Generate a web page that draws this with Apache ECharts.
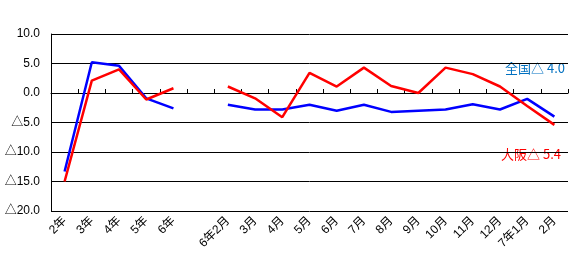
<!DOCTYPE html>
<html><head><meta charset="utf-8">
<script src="https://cdn.jsdelivr.net/npm/echarts@6/dist/echarts.min.js"></script>
<style>html,body{margin:0;padding:0;background:#fff}#c{width:578px;height:276px}</style>
</head><body><div id="c"></div>
<script>
var categories = ['2年','3年','4年','5年','6年','','6年2月','3月','4月','5月','6月','7月','8月','9月','10月','11月','12月','7年1月','2月'];
var osaka =  [-15.0, 2.1, 4.0, -1.1, 0.8, null, 1.1, -0.9, -4.1, 3.4, 1.1, 4.3, 1.2, 0.0, 4.3, 3.2, 1.1, -2.2, -5.4];
var zenkoku = [-13.3, 5.2, 4.6, -0.9, -2.6, null, -2.0, -2.8, -2.8, -2.0, -3.0, -2.0, -3.2, -3.0, -2.8, -1.9, -2.8, -1.0, -4.0];
var yTicks = {min: -20, max: 10, interval: 5};
var noteZenkoku = '全国△ 4.0';
var noteOsaka = '大阪△ 5.4';

var FONT = "'Liberation Sans','Noto Sans CJK JP',sans-serif";
var chart = echarts.init(document.getElementById('c'));
chart.setOption({
  animation: false,
  grid: {left: 51, right: 10, top: 34, bottom: 65},
  xAxis: [{
    type: 'category', data: categories, boundaryGap: true,
    axisLine: {show: false, onZero: false},
    axisTick: {show: false},
    axisLabel: {interval: 0, rotate: 45, fontSize: 12, color: '#000', fontFamily: FONT, margin: 8},
    splitLine: {show: false}
  }, {
    type: 'category', data: categories, boundaryGap: true, position: 'bottom',
    axisLine: {show: true, onZero: true, lineStyle: {color: '#000', width: 1}},
    axisTick: {show: true, inside: true, length: 4, interval: 0, lineStyle: {color: '#000'}},
    axisLabel: {show: false}
  }],
  yAxis: {
    type: 'value', min: yTicks.min, max: yTicks.max, interval: yTicks.interval,
    axisLine: {show: true, lineStyle: {color: '#000', width: 1}},
    axisTick: {show: false},
    axisLabel: {fontSize: 12, color: '#000', fontFamily: FONT, margin: 11,
      formatter: function(v){ return v < 0 ? '△' + Math.abs(v).toFixed(1) : v.toFixed(1); }},
    splitLine: {show: true, lineStyle: {color: '#000', width: 1}}
  },
  series: [{
    name: '全国', type: 'line', data: zenkoku, xAxisIndex: 0, showSymbol: false, symbol: 'none',
    connectNulls: false, lineStyle: {color: '#0000FF', width: 2.5}, z: 3
  }, {
    name: '大阪', type: 'line', data: osaka, xAxisIndex: 0, showSymbol: false, symbol: 'none',
    connectNulls: false, lineStyle: {color: '#FF0000', width: 2.5}, z: 4
  }],
  graphic: [{
    type: 'text', left: 505, top: 62,
    style: {text: noteZenkoku, fill: '#0070C0', font: "13px 'Noto Sans CJK JP',sans-serif"}
  }, {
    type: 'text', left: 501, top: 148,
    style: {text: noteOsaka, fill: '#FF0000', font: "13px 'Noto Sans CJK JP',sans-serif"}
  }]
});
</script></body></html>
